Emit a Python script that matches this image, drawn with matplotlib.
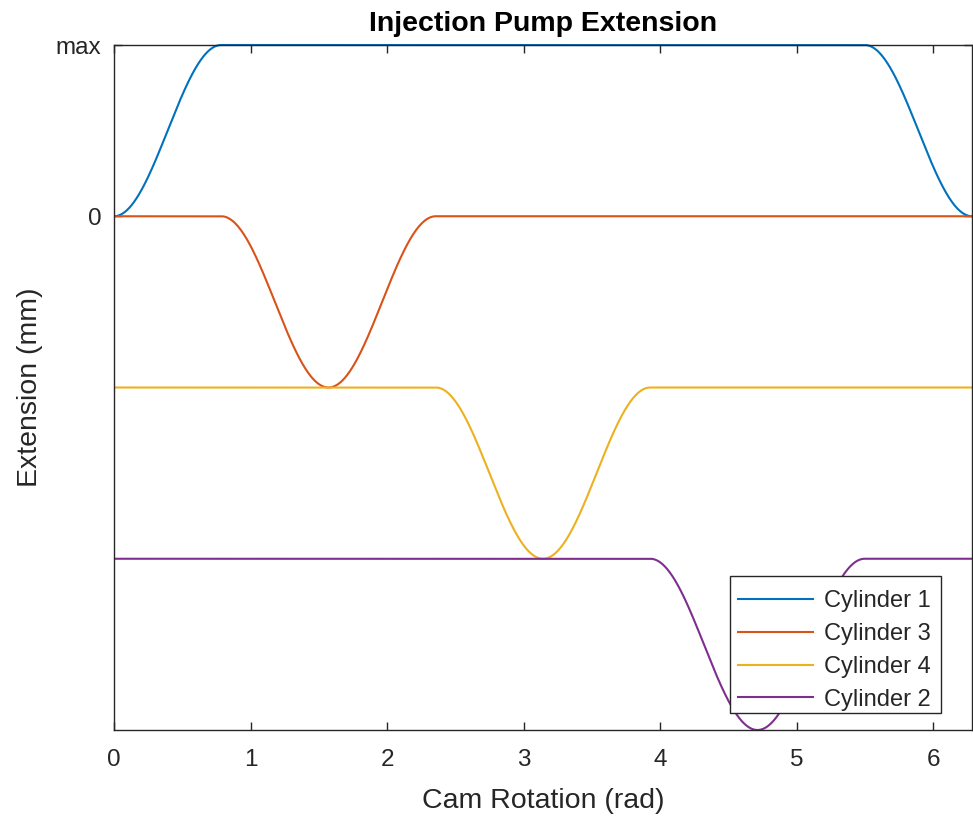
import numpy as np
import matplotlib
matplotlib.use("Agg")
import matplotlib.pyplot as plt
from matplotlib.patches import Rectangle

plt.rcParams['font.family'] = ['Liberation Sans', 'DejaVu Sans']

# Cylinders in firing order, as they appear in the legend
cylinders = ["Cylinder 1", "Cylinder 3", "Cylinder 4", "Cylinder 2"]
colors = ["#0072BD", "#D95319", "#EDB120", "#7E2F8E"]
# Resting level of each trace (stacked one stroke apart)
baselines = [1.0, 0.0, -1.0, -2.0]
# Cam angle (rad) at the bottom of each injection stroke
stroke_centres = [0.0, np.pi / 2, np.pi, 3 * np.pi / 2]
# Half-width of a stroke (rad) and its depth
stroke_half_width = np.pi / 4
stroke_depth = 1.0

ytick_values = [0, 1]
ytick_labels = ["0", "max"]
xtick_values = [0, 1, 2, 3, 4, 5, 6]

theta = np.linspace(0, 2 * np.pi, 2001)


def pump_extension(angle, base, centre):
    # wrap distance to the stroke centre onto [-pi, pi)
    d = (angle - centre + np.pi) % (2 * np.pi) - np.pi
    lift = np.where(np.abs(d) < stroke_half_width,
                    stroke_depth * (1 + np.cos(np.pi * d / stroke_half_width)) / 2,
                    0.0)
    return base - lift


fig = plt.figure(figsize=(9.73, 8.19), dpi=100)
ax_px = (114, 45, 972, 730)  # left, top, right, bottom in pixels
ax_w = ax_px[2] - ax_px[0]
ax_h = ax_px[3] - ax_px[1]
ax = fig.add_axes([ax_px[0] / 973, 1 - ax_px[3] / 819, ax_w / 973, ax_h / 819])

for name, col, base, centre in zip(cylinders, colors, baselines, stroke_centres):
    ax.plot(theta, pump_extension(theta, base, centre), color=col, lw=1.5,
            label=name, clip_on=False, solid_capstyle='butt')

ax.set_xlim(0, 2 * np.pi)
ax.set_ylim(-3, 1)
ax.set_xticks(xtick_values)
ax.set_yticks(ytick_values)
ax.set_yticklabels(ytick_labels)

spine_col = "#262626"
for s in ax.spines.values():
    s.set_color(spine_col)
    s.set_linewidth(1.0)
ax.tick_params(direction='in', length=6, width=1, colors=spine_col,
               labelsize=17.5, top=True, right=True)
ax.tick_params(axis='x', pad=14)
ax.tick_params(axis='y', pad=9)
for lbl in ax.get_xticklabels() + ax.get_yticklabels():
    lbl.set_color("#262626")

ax.set_xlabel("Cam Rotation (rad)", fontsize=20.5, color="#262626", labelpad=12)
ax.set_ylabel("Extension (mm)", fontsize=20.5, color="#262626", labelpad=9)
ax.set_title("Injection Pump Extension", fontsize=20.5, fontweight='bold',
             color="black", pad=10)

# legend frame drawn as a separate box so the padding can differ per side
box_px = (730, 576, 941, 713)  # left, top, right, bottom in pixels
frame = Rectangle(((box_px[0] - ax_px[0]) / ax_w, (ax_px[3] - box_px[3]) / ax_h),
                  (box_px[2] - box_px[0]) / ax_w, (box_px[3] - box_px[1]) / ax_h,
                  transform=ax.transAxes, facecolor="white", edgecolor=spine_col,
                  lw=1.0, zorder=4.9, clip_on=False)
ax.add_patch(frame)

# a blank, tiny legend title pushes the entries down inside the frame
leg = ax.legend(loc='lower right',
                bbox_to_anchor=((933 - ax_px[0]) / ax_w, (ax_px[3] - box_px[3]) / ax_h),
                borderaxespad=0, fontsize=17, frameon=False, handlelength=3.3,
                handletextpad=0.4, labelspacing=0.46, borderpad=0.1,
                title=" ", title_fontsize=1)
leg.set_zorder(5)
for t in leg.get_texts():
    t.set_color("#262626")

fig.savefig("out.png", dpi=100)
